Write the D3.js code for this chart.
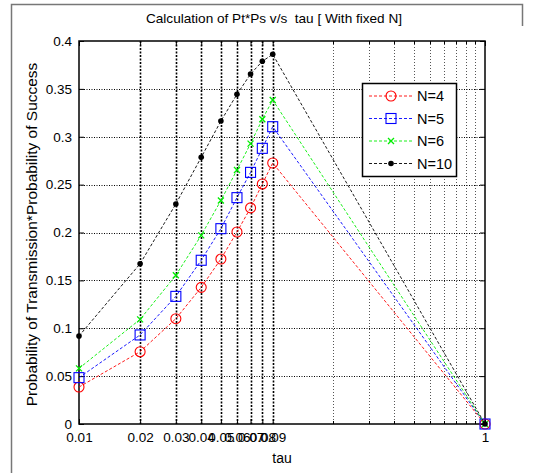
<!DOCTYPE html>
<html>
<head>
<meta charset="utf-8">
<script src="https://cdn.jsdelivr.net/npm/d3@7/dist/d3.min.js"></script>
<style>
  body { margin: 0; background: #fff; }
  text { font-family: "Liberation Sans", Arial, sans-serif; fill: #000; }
</style>
</head>
<body>
<div id="chart"></div>
<script>
// values
var tau = [0.01, 0.02, 0.03, 0.04, 0.05, 0.06, 0.07, 0.08, 0.09, 1];
var n4  = [0.0386, 0.0755, 0.110, 0.1427, 0.1723, 0.2005, 0.2257, 0.2507, 0.2726, 0];
var n5  = [0.0484, 0.0930, 0.1333, 0.1710, 0.2040, 0.2364, 0.2628, 0.2879, 0.3105, 0];
var n6  = [0.0581, 0.1093, 0.1553, 0.1970, 0.2334, 0.2653, 0.2928, 0.3182, 0.3384, 0];
var n10 = [0.0919, 0.1674, 0.2298, 0.2785, 0.3164, 0.3443, 0.3655, 0.3788, 0.3861, 0];
var seriesNames = ["N=4", "N=5", "N=6", "N=10"];
var xTicks = [0.01, 0.02, 0.03, 0.04, 0.05, 0.06, 0.07, 0.08, 0.09, 1];
var xTickLabels = ["0.01", "0.02", "0.03", "0.04", "0.05", "0.06", "0.07", "0.08", "0.09", "1"];
var xMinor = [0.179, 0.268, 0.358, 0.447, 0.537, 0.626, 0.716, 0.805, 0.895];
var yTicks = [0, 0.05, 0.1, 0.15, 0.2, 0.25, 0.3, 0.35, 0.4];

var width = 534, height = 473;
var margin = {left: 79, right: 49, top: 41, bottom: 49};

var svg = d3.select("#chart").append("svg")
    .attr("width", width)
    .attr("height", height);

// figure frame
svg.append("path")
    .attr("d", "M11.5,473V4.5H522.5V26")
    .attr("fill", "none")
    .attr("stroke", "#777")
    .attr("stroke-width", 1.5);

var x = d3.scaleLog()
    .domain([0.01, 1])
    .range([margin.left, width - margin.right]);
var y = d3.scaleLinear()
    .domain([0, 0.4])
    .range([height - margin.bottom, margin.top]);

var x0 = x.range()[0], x1 = x.range()[1];
var y0 = y.range()[0], y1 = y.range()[1];

// grid
var grid = svg.append("g");
grid.selectAll("line.minor")
    .data(xMinor)
    .enter().append("line")
    .attr("class", "minor")
    .attr("x1", function(d) { return Math.round(x(d)) + 0.5; })
    .attr("x2", function(d) { return Math.round(x(d)) + 0.5; })
    .attr("y1", y1).attr("y2", y0)
    .attr("stroke", "#555")
    .attr("stroke-width", 1)
    .attr("stroke-dasharray", "1,2");
grid.selectAll("line.vmajor")
    .data(xTicks.slice(1, -1))
    .enter().append("line")
    .attr("class", "vmajor")
    .attr("x1", function(d) { return Math.round(x(d)) + 0.5; })
    .attr("x2", function(d) { return Math.round(x(d)) + 0.5; })
    .attr("y1", y1).attr("y2", y0)
    .attr("stroke", "#000")
    .attr("stroke-width", 1.6)
    .attr("stroke-dasharray", "2,1.5");
grid.selectAll("line.hmajor")
    .data(yTicks.slice(1, -1))
    .enter().append("line")
    .attr("class", "hmajor")
    .attr("x1", x0).attr("x2", x1)
    .attr("y1", function(d) { return Math.round(y(d)) + 0.5; })
    .attr("y2", function(d) { return Math.round(y(d)) + 0.5; })
    .attr("stroke", "#000")
    .attr("stroke-width", 1)
    .attr("stroke-dasharray", "1,1.5");

// axes (ticks inward, all four sides)
svg.append("g")
    .attr("transform", "translate(0," + y0 + ")")
    .call(d3.axisBottom(x).tickValues(xTicks)
        .tickFormat(function(d, i) { return xTickLabels[i]; })
        .tickSizeInner(-5).tickSizeOuter(0).tickPadding(8));
svg.append("g")
    .attr("transform", "translate(0," + y1 + ")")
    .call(d3.axisTop(x).tickValues(xTicks).tickFormat("")
        .tickSizeInner(-5).tickSizeOuter(0));
svg.append("g")
    .attr("transform", "translate(" + x0 + ",0)")
    .call(d3.axisLeft(y).tickValues(yTicks)
        .tickFormat(function(d) { return d3.format("")(+d.toFixed(2)); })
        .tickSizeInner(-5).tickSizeOuter(0).tickPadding(7));
svg.append("g")
    .attr("transform", "translate(" + x1 + ",0)")
    .call(d3.axisRight(y).tickValues(yTicks).tickFormat("")
        .tickSizeInner(-5).tickSizeOuter(0));

// minor ticks on log axis
[[y0, -3], [y1, 3]].forEach(function(p) {
    svg.append("g").selectAll("line")
        .data(xMinor)
        .enter().append("line")
        .attr("x1", function(d) { return Math.round(x(d)) + 0.5; })
        .attr("x2", function(d) { return Math.round(x(d)) + 0.5; })
        .attr("y1", p[0]).attr("y2", p[0] + p[1])
        .attr("stroke", "#000");
});

svg.selectAll(".domain").remove();
svg.selectAll(".tick line").attr("stroke", "#000");
svg.selectAll(".tick text")
    .style("font-family", "'Liberation Sans', Arial, sans-serif")
    .style("font-size", "13.5px")
    .attr("fill", "#000");

svg.append("rect")
    .attr("x", x0).attr("y", y1)
    .attr("width", x1 - x0).attr("height", y0 - y1)
    .attr("fill", "none")
    .attr("stroke", "#000")
    .attr("stroke-width", 1.5);

// data series
var series = [
    {name: seriesNames[0], values: n4,  color: "#ff0000", marker: "circle"},
    {name: seriesNames[1], values: n5,  color: "#0000ff", marker: "square"},
    {name: seriesNames[2], values: n6,  color: "#00ee00", marker: "cross"},
    {name: seriesNames[3], values: n10, color: "#000000", marker: "dot"}
];

var line = d3.line()
    .x(function(d) { return x(d[0]); })
    .y(function(d) { return y(d[1]); });

function drawMarker(g, type, color, cx, cy) {
    if (type == "circle") {
        g.append("circle").attr("cx", cx).attr("cy", cy).attr("r", 5)
            .attr("fill", "none").attr("stroke", color).attr("stroke-width", 1.1);
    } else if (type == "square") {
        g.append("rect").attr("x", cx - 5).attr("y", cy - 5)
            .attr("width", 10).attr("height", 10)
            .attr("fill", "none").attr("stroke", color).attr("stroke-width", 1.1);
    } else if (type == "cross") {
        g.append("path")
            .attr("d", "M" + (cx - 3) + "," + (cy - 3) + "L" + (cx + 3) + "," + (cy + 3) +
                       "M" + (cx - 3) + "," + (cy + 3) + "L" + (cx + 3) + "," + (cy - 3))
            .attr("stroke", color).attr("stroke-width", 1.3);
    } else {
        g.append("circle").attr("cx", cx).attr("cy", cy).attr("r", 2.8)
            .attr("fill", color);
    }
}

series.forEach(function(s) {
    var pts = tau.map(function(t, i) { return [t, s.values[i]]; });
    var g = svg.append("g");
    g.append("path")
        .attr("d", line(pts))
        .attr("fill", "none")
        .attr("stroke", s.color)
        .attr("stroke-width", 0.9)
        .attr("stroke-dasharray", "3,2");
    pts.forEach(function(p) {
        drawMarker(g, s.marker, s.color, x(p[0]), y(p[1]));
    });
});

// legend
var legend = svg.append("g").attr("transform", "translate(362,83)");
legend.append("rect")
    .attr("x", 0.5).attr("y", 0.5)
    .attr("width", 94).attr("height", 93)
    .attr("fill", "#fff")
    .attr("stroke", "#000")
    .attr("stroke-width", 1.5);
series.forEach(function(s, i) {
    var ly = 13 + i * 22.5;
    legend.append("line")
        .attr("x1", 7).attr("x2", 50)
        .attr("y1", ly).attr("y2", ly)
        .attr("stroke", s.color)
        .attr("stroke-width", 0.9)
        .attr("stroke-dasharray", "3,2");
    drawMarker(legend, s.marker, s.color, 29, ly);
    legend.append("text")
        .attr("x", 55).attr("y", ly)
        .attr("dy", "0.36em")
        .style("font-size", "14.5px")
        .text(s.name);
});

// titles
svg.append("text")
    .attr("x", 274).attr("y", 23)
    .attr("text-anchor", "middle")
    .style("font-size", "13.6px")
    .style("white-space", "pre")
    .text("Calculation of Pt*Ps v/s  tau [ With fixed N]");
svg.append("text")
    .attr("x", (x0 + x1) / 2).attr("y", 463)
    .attr("text-anchor", "middle")
    .style("font-size", "14px")
    .text("tau");
svg.append("text")
    .attr("transform", "translate(37," + ((y0 + y1) / 2 + 2) + ")rotate(-90)")
    .attr("text-anchor", "middle")
    .style("font-size", "15.5px")
    .text("Probability of Transmission*Probability of Success");
</script>
</body>
</html>
